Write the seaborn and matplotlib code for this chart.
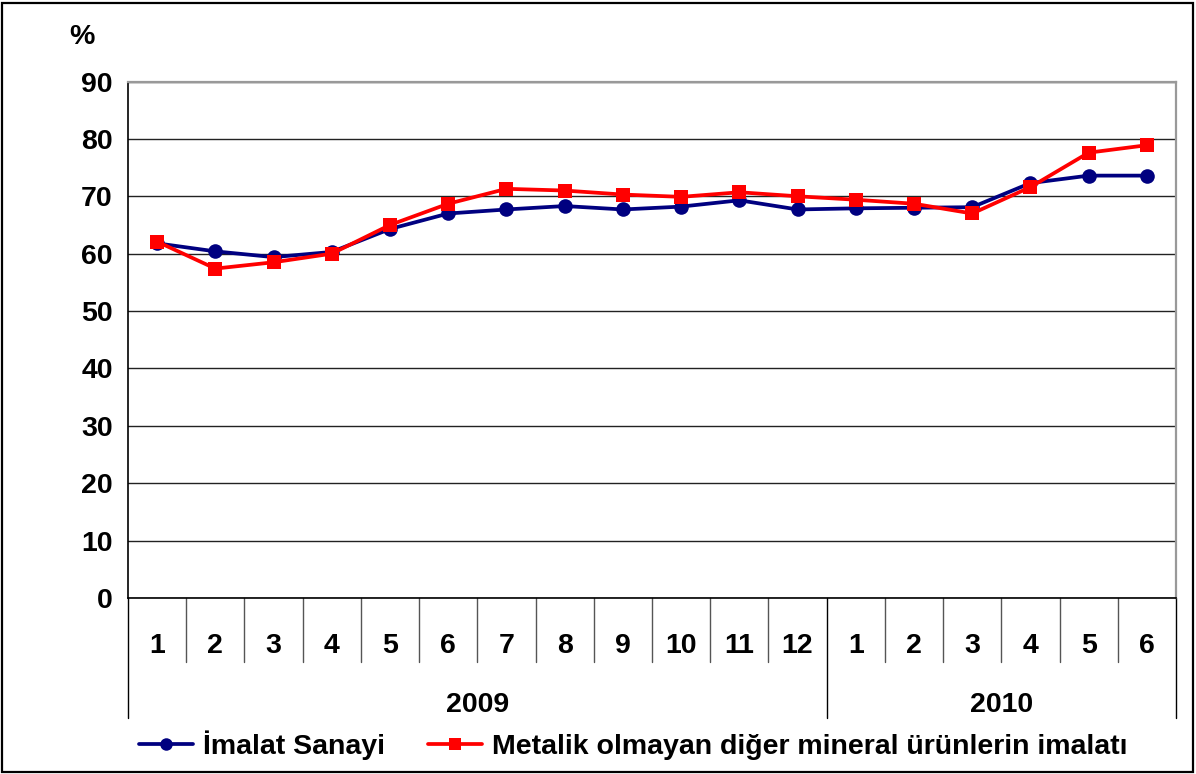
import matplotlib
matplotlib.use("Agg")
import matplotlib.pyplot as plt
import matplotlib.transforms as mtransforms
from matplotlib.patches import Rectangle
import pandas as pd
import seaborn as sns

# Monthly capacity utilisation rates (%), Jan 2009 - Jun 2010
months = ["1", "2", "3", "4", "5", "6", "7", "8", "9", "10", "11", "12",
          "1", "2", "3", "4", "5", "6"]
years = ["2009", "2010"]
months_per_year = [12, 6]

imalat = [61.8, 60.4, 59.4, 60.3, 64.3, 67.0, 67.7, 68.3, 67.7, 68.2, 69.3, 67.7,
          67.9, 68.0, 68.1, 72.3, 73.6, 73.6]
metalik = [62.1, 57.4, 58.5, 60.0, 65.0, 68.7, 71.3, 71.0, 70.3, 69.9, 70.7, 70.0,
           69.4, 68.7, 67.0, 71.6, 77.6, 78.9]

name_a = "İmalat Sanayi"
name_b = "Metalik olmayan diğer mineral ürünlerin imalatı"

df = pd.DataFrame({
    "pos": list(range(len(months))) * 2,
    "value": imalat + metalik,
    "series": [name_a] * len(imalat) + [name_b] * len(metalik),
})

sns.set_style("white")
plt.rcParams["font.family"] = ["Liberation Sans", "DejaVu Sans"]
plt.rcParams["font.weight"] = "bold"
plt.rcParams["text.color"] = "black"
plt.rcParams["ytick.color"] = "black"
plt.rcParams["ytick.labelcolor"] = "black"

FS = 20.5
W, H = 1196, 774
fig = plt.figure(figsize=(W / 100, H / 100), dpi=100)
left, right, top, bottom = 128, 1176, 81.5, 598
ax = fig.add_axes([left / W, 1 - bottom / H, (right - left) / W, (bottom - top) / H])

sns.lineplot(
    data=df, x="pos", y="value", hue="series", style="series",
    palette={name_a: "#000080", name_b: "#FF0000"},
    markers={name_a: "o", name_b: "s"}, dashes=False,
    markersize=10.5, markeredgewidth=0, linewidth=2.7, ax=ax, zorder=3,
)

ax.set_xlim(-0.5, len(months) - 0.5)
ax.set_ylim(0, 90)
ax.set_yticks(range(0, 91, 10))
ax.tick_params(axis="y", labelsize=FS, length=6, width=1, color="black",
               labelcolor="black", direction="out", pad=5)
for lbl in ax.get_yticklabels():
    lbl.set_fontweight("bold")
ax.set_xticks([])
ax.set_xlabel("")
ax.set_ylabel("")
ax.grid(axis="y", color="#222222", linewidth=1.0)
ax.set_axisbelow(True)

for side in ("top", "right"):
    ax.spines[side].set_color("#999999")
    ax.spines[side].set_linewidth(1.6)
ax.spines["left"].set_color("black")
ax.spines["bottom"].set_color("black")
ax.spines["left"].set_linewidth(1.2)
ax.spines["bottom"].set_linewidth(1.2)

# Two-level category axis: months, then years
trans = mtransforms.blended_transform_factory(ax.transData, ax.transAxes)
ah = bottom - top
y_month = -(646 - bottom) / ah
y_sep = -(662 - bottom) / ah
y_year_sep = -(718 - bottom) / ah
y_year = -(705 - bottom) / ah

for i, m in enumerate(months):
    ax.text(i, y_month, m, transform=trans, ha="center", va="center",
            fontsize=FS, fontweight="bold", color="black", clip_on=False)

year_bounds = [-0.5]
for n in months_per_year:
    year_bounds.append(year_bounds[-1] + n)
for b in range(len(months) + 1):
    xb = b - 0.5
    if xb in year_bounds:
        ax.plot([xb, xb], [0, y_year_sep], transform=trans, color="black",
                linewidth=1.0, clip_on=False)
    else:
        ax.plot([xb, xb], [0, y_sep], transform=trans, color="#555555",
                linewidth=1.0, clip_on=False)
for k, yr in enumerate(years):
    xc = (year_bounds[k] + year_bounds[k + 1]) / 2
    ax.text(xc, y_year, yr, transform=trans, ha="center", va="center",
            fontsize=FS, fontweight="bold", color="black", clip_on=False)

fig.text(82 / W, 1 - 37 / H, "%", ha="center", va="center",
         fontsize=FS, fontweight="bold", color="black")

handles, labels = ax.get_legend_handles_labels()
for h in handles:
    h.set_markersize(9)
ax.get_legend().remove()
leg = fig.legend(handles, labels, loc="center", ncol=2,
                 bbox_to_anchor=(633 / W, 1 - 745 / H), frameon=False,
                 prop={"size": FS, "weight": "bold"}, handlelength=1.9,
                 handletextpad=0.35, columnspacing=1.5, borderaxespad=0,
                 labelcolor="black")

fig.patches.append(Rectangle((2 / W, 2 / H), (W - 5) / W, (H - 5) / H,
                             transform=fig.transFigure, fill=False,
                             edgecolor="black", linewidth=1.6))

fig.savefig("out.png", dpi=100, facecolor="white")
